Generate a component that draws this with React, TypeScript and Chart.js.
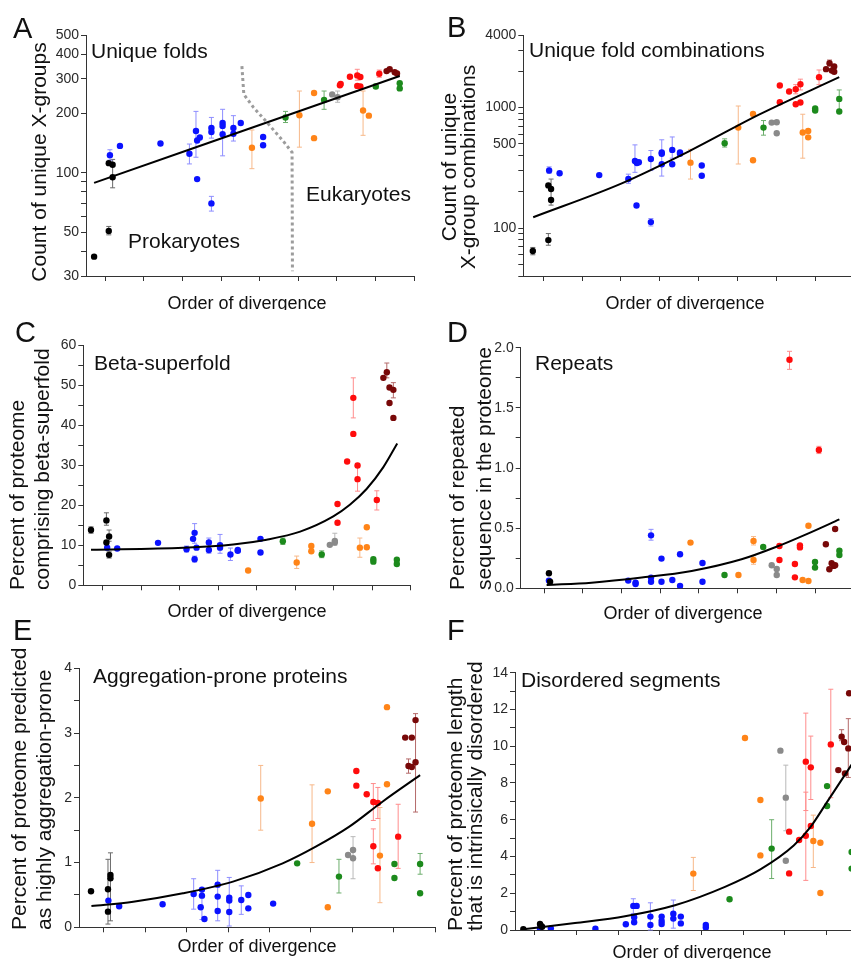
import React, { useEffect, useRef } from "react";
import { Chart, registerables } from "chart.js";
Chart.register(...registerables);

const FONT = '"Liberation Sans", Arial, Helvetica, sans-serif';
const GROUP_NAMES = ["black", "blue", "orange", "green", "gray", "red", "darkred"];
const COLORS = ["#000000", "#0b12ff", "#ff8418", "#1c8a1c", "#8a8a8a", "#ff0c0c", "#780808"];
const ERR_COLORS = ["#6a6a6a", "#8e8eff", "#f7b889", "#6cae6c", "#b8b8b8", "#ff8c8c", "#b46a6a"];
const X_TICKS = [1, 2, 3, 4, 5, 6, 7, 8, 9];

// ---------- Panel A: unique folds ----------
const A_x = [0.71, 1.09, 1.09, 1.19, 1.19, 1.12, 1.38, 2.43, 3.18, 3.35, 3.38, 3.45, 3.38, 3.75, 3.75, 4.04, 4.04, 4.04, 3.75, 4.32, 4.32, 4.51, 5.09, 5.09, 4.8, 6.03, 6.41, 6.41, 7.68, 7.83, 5.67, 6.67, 8.01, 8.63, 8.63, 6.88, 7.02, 7.08, 7.1, 7.34, 7.53, 7.61, 7.53, 7.61, 8.1, 8.29, 8.37, 8.5, 8.56];
const A_y = [37.6, 50.8, 112, 110, 95, 123, 137, 141, 125, 163, 146, 151, 93, 169, 161, 179, 173, 157, 70, 169, 158, 179, 152, 138, 134, 196, 254, 150, 207, 195, 191, 234, 274, 285, 268, 250, 242, 278, 282, 307, 312, 306, 276, 274, 318, 328, 335, 324, 319];
const A_g = [0, 0, 0, 0, 0, 1, 1, 1, 1, 1, 1, 1, 1, 1, 1, 1, 1, 1, 1, 1, 1, 1, 1, 1, 2, 2, 2, 2, 2, 2, 3, 3, 3, 3, 3, 4, 4, 5, 5, 5, 5, 5, 5, 5, 5, 6, 6, 6, 6];
const A_errX = [1.09, 1.19, 1.12, 3.18, 3.35, 3.75, 4.04, 3.75, 4.32, 4.8, 6.03, 7.68, 5.67, 6.67, 8.01, 7.02, 7.53, 8.1];
const A_errLo = [48.5, 84, 116, 111, 120, 150, 122, 64, 145, 105, 135, 155, 180, 210, 268, 228, 295, 305];
const A_errHi = [53.5, 117, 131, 140, 205, 191, 210, 76, 195, 165, 260, 260, 205, 260, 282, 260, 335, 332];
const A_errG = [0, 0, 1, 1, 1, 1, 1, 1, 1, 2, 2, 2, 3, 3, 3, 4, 5, 5];
const A_fitX = [0.71, 8.63];
const A_fitY = [89, 310];
const A_divX = [4.54, 4.59, 4.83, 5.18, 5.61, 5.84, 5.85];
const A_divY = [348, 250, 216, 181, 145, 127, 31.7];
const A_yTicks = [30, 40, 50, 60, 70, 80, 90, 100, 200, 300, 400, 500];
const A_yLabels = [30, 50, 100, 200, 300, 400, 500];

// ---------- Panel B: unique fold combinations ----------
const B_x = [0.73, 1.13, 1.13, 1.2, 1.2, 1.15, 1.42, 2.44, 3.19, 3.36, 3.41, 3.46, 3.4, 3.77, 3.77, 4.05, 4.05, 4.05, 4.32, 4.32, 4.52, 4.52, 5.08, 5.08, 4.79, 6.02, 6.4, 6.4, 7.68, 7.82, 7.82, 5.67, 6.67, 8.0, 8.0, 8.62, 8.62, 6.88, 7.01, 7.01, 7.09, 7.09, 7.33, 7.5, 7.62, 7.5, 7.62, 8.1, 8.28, 8.37, 8.43, 8.49, 8.49];
const B_y = [64.5, 79.4, 226, 211, 171, 300, 285, 275, 255, 360, 347, 352, 154, 374, 112, 423, 414, 338, 445, 338, 425, 414, 330, 272, 349, 682, 886, 365, 620, 640, 566, 505, 682, 981, 944, 1180, 926, 750, 755, 612, 1523, 1108, 1359, 1420, 1563, 1066, 1100, 1787, 2083, 2335, 2030, 2190, 1980];
const B_g = [0, 0, 0, 0, 0, 1, 1, 1, 1, 1, 1, 1, 1, 1, 1, 1, 1, 1, 1, 1, 1, 1, 1, 1, 2, 2, 2, 2, 2, 2, 2, 3, 3, 3, 3, 3, 3, 4, 4, 4, 5, 5, 5, 5, 5, 5, 5, 5, 6, 6, 6, 6, 6];
const B_errX = [0.73, 1.13, 1.2, 1.15, 3.19, 3.36, 3.77, 3.77, 4.05, 4.32, 4.79, 6.02, 7.68, 5.67, 6.67, 8.62, 7.5, 7.62, 8.1, 8.37];
const B_errLo = [60, 72, 155, 285, 235, 290, 300, 104, 270, 380, 255, 340, 380, 470, 590, 930, 1300, 1400, 1550, 2200];
const B_errHi = [69, 90, 255, 322, 280, 490, 440, 120, 540, 570, 450, 1030, 880, 550, 780, 1400, 1550, 1720, 2050, 2480];
const B_errG = [0, 0, 0, 1, 1, 1, 1, 1, 1, 1, 2, 2, 2, 3, 3, 3, 5, 5, 5, 6];
const B_fitX = [0.74, 3.02, 4.82, 6.54, 8.62];
const B_fitY = [123, 235, 445, 869, 1787];
const B_yTicks = [40, 50, 60, 70, 80, 90, 100, 200, 300, 400, 500, 600, 700, 800, 900, 1000, 2000, 3000, 4000];
const B_yLabels = [100, 500, 1000, 4000];

// ---------- Panel C: beta-superfold ----------
const C_x = [0.7, 1.1, 1.1, 1.17, 1.17, 1.12, 1.38, 2.44, 3.18, 3.35, 3.39, 3.44, 3.39, 3.76, 3.76, 4.05, 4.05, 4.32, 4.51, 4.51, 5.1, 5.1, 4.78, 6.04, 6.42, 6.42, 7.68, 7.86, 7.86, 5.68, 6.69, 8.03, 8.03, 8.64, 8.64, 6.9, 7.03, 7.03, 7.1, 7.1, 7.35, 7.51, 7.51, 7.62, 7.62, 8.12, 8.29, 8.38, 8.45, 8.45, 8.55, 8.55];
const C_y = [13.8, 16.2, 10.7, 12.2, 7.6, 9.4, 9.2, 10.6, 9.0, 11.6, 13.1, 9.4, 6.5, 10.7, 8.8, 10.0, 9.4, 7.7, 8.8, 8.6, 11.6, 8.2, 3.7, 5.7, 9.8, 8.5, 9.4, 14.5, 9.5, 11.0, 7.7, 6.5, 5.9, 6.4, 5.3, 10.1, 11.1, 10.7, 20.3, 15.6, 30.9, 46.8, 37.8, 29.9, 26.5, 21.3, 51.8, 53.2, 49.4, 45.5, 48.8, 41.8];
const C_g = [0, 0, 0, 0, 0, 1, 1, 1, 1, 1, 1, 1, 1, 1, 1, 1, 1, 1, 1, 1, 1, 1, 2, 2, 2, 2, 2, 2, 2, 3, 3, 3, 3, 3, 3, 4, 4, 4, 5, 5, 5, 5, 5, 5, 5, 5, 6, 6, 6, 6, 6, 6];
const C_errX = [0.7, 1.1, 1.17, 1.17, 3.18, 3.39, 3.39, 3.76, 4.05, 4.32, 6.04, 7.68, 5.68, 6.69, 7.03, 7.51, 7.62, 8.12, 8.38, 8.55];
const C_errLo = [13, 15, 11, 6.8, 8.3, 10.5, 5.8, 8, 8, 6.2, 4.2, 7.0, 10.2, 6.9, 10, 41.8, 23.5, 18.8, 51.8, 46.8];
const C_errHi = [14.6, 18.1, 13.8, 8.5, 9.8, 15.4, 7.3, 11.8, 12.7, 9.3, 7.3, 11.8, 11.8, 8.6, 13, 51.8, 29.9, 23.6, 55.5, 50.6];
const C_errG = [0, 0, 0, 0, 1, 1, 1, 1, 1, 1, 2, 2, 3, 3, 4, 5, 5, 5, 6, 6];
const C_fitX = [0.7, 3.1, 4.39, 5.26, 6.13, 6.99, 7.42, 7.86, 8.29, 8.65];
const C_fitY = [8.9, 9.4, 10.2, 11.4, 13.4, 17.2, 20.1, 24.1, 29.5, 35.4];
const C_yTicks = [0, 5, 10, 15, 20, 25, 30, 35, 40, 45, 50, 55, 60];
const C_yLabels = [0, 10, 20, 30, 40, 50, 60];

// ---------- Panel D: repeats ----------
const D_x = [1.12, 1.15, 1.12, 3.17, 3.36, 3.36, 3.76, 3.76, 3.76, 4.03, 4.03, 4.31, 4.51, 4.51, 5.09, 5.09, 4.78, 6.02, 6.41, 6.41, 7.68, 7.83, 7.83, 5.66, 6.66, 8.0, 8.0, 8.63, 8.63, 6.88, 7.01, 7.01, 7.08, 7.08, 7.34, 7.48, 7.48, 7.61, 7.61, 8.1, 8.28, 8.37, 8.43, 8.48, 8.52, 8.52];
const D_y = [0.125, 0.055, 0.064, 0.064, 0.047, 0.036, 0.44, 0.089, 0.055, 0.247, 0.055, 0.069, 0.283, 0.019, 0.21, 0.055, 0.38, 0.11, 0.393, 0.235, 0.069, 0.52, 0.061, 0.11, 0.343, 0.219, 0.172, 0.313, 0.277, 0.191, 0.161, 0.111, 0.352, 0.235, 1.9, 0.202, 0.091, 0.357, 0.34, 1.15, 0.366, 0.158, 0.208, 0.186, 0.493, 0.191];
const D_g = [0, 0, 1, 1, 1, 1, 1, 1, 1, 1, 1, 1, 1, 1, 1, 1, 2, 2, 2, 2, 2, 2, 2, 3, 3, 3, 3, 3, 3, 4, 4, 4, 5, 5, 5, 5, 5, 5, 5, 5, 6, 6, 6, 6, 6, 6];
const D_errX = [3.76, 6.41, 6.41, 7.34, 8.1];
const D_errLo = [0.4, 0.36, 0.2, 1.82, 1.12];
const D_errHi = [0.49, 0.43, 0.27, 1.97, 1.18];
const D_errG = [1, 2, 2, 5, 5];
const D_fitX = [1.06, 2.22, 3.52, 4.81, 6.1, 6.97, 7.83, 8.63];
const D_fitY = [0.028, 0.047, 0.089, 0.144, 0.241, 0.341, 0.457, 0.573];
const D_yTicks = [0, 0.25, 0.5, 0.75, 1.0, 1.25, 1.5, 1.75, 2.0];
const D_yLabels = [0, 0.5, 1.0, 1.5, 2.0];

// ---------- Panel E: aggregation-prone proteins ----------
const E_x = [0.69, 1.1, 1.1, 1.16, 1.16, 1.11, 1.37, 2.42, 3.17, 3.37, 3.37, 3.34, 3.43, 3.75, 3.75, 3.75, 4.03, 4.03, 4.03, 4.32, 4.49, 4.49, 5.09, 4.79, 6.03, 6.41, 6.41, 7.67, 7.84, 7.84, 5.67, 6.68, 8.02, 8.02, 8.64, 8.64, 6.9, 7.02, 7.02, 7.1, 7.1, 7.35, 7.51, 7.51, 7.62, 7.62, 8.11, 8.28, 8.44, 8.36, 8.44, 8.53, 8.53];
const E_y = [0.556, 0.587, 0.242, 0.808, 0.757, 0.412, 0.324, 0.355, 0.515, 0.582, 0.489, 0.309, 0.129, 0.659, 0.474, 0.252, 0.458, 0.412, 0.237, 0.422, 0.5, 0.293, 0.366, 1.99, 1.6, 2.1, 0.309, 1.107, 3.4, 2.21, 0.988, 0.783, 0.978, 0.762, 0.978, 0.525, 1.117, 1.194, 1.066, 2.414, 2.188, 2.054, 1.936, 1.251, 1.92, 0.911, 1.4, 2.93, 2.93, 2.49, 2.476, 2.548, 3.2];
const E_g = [0, 0, 0, 0, 0, 1, 1, 1, 1, 1, 1, 1, 1, 1, 1, 1, 1, 1, 1, 1, 1, 1, 1, 2, 2, 2, 2, 2, 2, 2, 3, 3, 3, 3, 3, 3, 4, 4, 4, 5, 5, 5, 5, 5, 5, 5, 5, 6, 6, 6, 6, 6, 6];
const E_errX = [1.1, 1.16, 3.17, 3.37, 3.75, 4.03, 4.32, 4.79, 6.03, 7.67, 6.68, 8.64, 7.02, 7.51, 7.51, 7.62, 8.11, 8.36, 8.53];
const E_errLo = [0.05, 0.1, 0.28, 0.12, 0.1, 0.02, 0.2, 1.5, 1.0, 0.38, 0.53, 0.82, 0.75, 1.65, 0.98, 1.68, 0.91, 2.38, 1.78];
const E_errHi = [1.05, 1.15, 0.75, 0.57, 0.88, 0.77, 0.64, 2.5, 2.2, 1.85, 1.05, 1.14, 1.4, 2.22, 1.52, 2.16, 1.9, 2.6, 3.3];
const E_errG = [0, 0, 1, 1, 1, 1, 1, 2, 2, 2, 3, 3, 4, 5, 5, 5, 5, 6, 6];
const E_fitX = [0.7, 1.71, 2.91, 4.12, 5.32, 6.12, 6.93, 7.73, 8.64];
const E_fitY = [0.329, 0.396, 0.525, 0.705, 0.988, 1.246, 1.555, 1.94, 2.35];
const E_yTicks = [0, 0.5, 1, 1.5, 2, 2.5, 3, 3.5, 4];
const E_yLabels = [0, 1, 2, 3, 4];

// ---------- Panel F: disordered segments ----------
const F_x = [0.72, 1.12, 1.14, 1.17, 1.12, 1.38, 2.45, 3.18, 3.36, 3.44, 3.38, 3.38, 3.77, 3.77, 4.04, 4.04, 4.04, 4.32, 4.32, 4.5, 4.5, 5.1, 5.1, 4.8, 6.04, 6.41, 6.41, 7.68, 7.85, 7.85, 5.67, 6.68, 8.01, 8.01, 8.6, 8.6, 6.89, 7.02, 7.02, 7.1, 7.1, 7.34, 7.5, 7.5, 7.62, 7.62, 8.1, 8.28, 8.36, 8.42, 8.44, 8.52, 8.54];
const F_y = [0.05, 0.33, 0.24, 0.18, 0.07, 0.09, 0.07, 0.31, 1.31, 1.31, 0.69, 0.42, 0.73, 0.27, 0.73, 0.49, 0.33, 0.89, 0.62, 0.73, 0.36, 0.27, 0.13, 3.07, 10.45, 7.07, 4.06, 4.84, 4.75, 2.01, 1.67, 4.43, 7.83, 6.75, 4.24, 3.34, 9.76, 7.2, 3.77, 5.35, 3.08, 4.9, 9.16, 5.13, 8.85, 5.66, 10.1, 8.7, 10.52, 10.23, 8.52, 9.88, 12.88];
const F_g = [0, 0, 0, 0, 1, 1, 1, 1, 1, 1, 1, 1, 1, 1, 1, 1, 1, 1, 1, 1, 1, 1, 1, 2, 2, 2, 2, 2, 2, 2, 3, 3, 3, 3, 3, 3, 4, 4, 4, 5, 5, 5, 5, 5, 5, 5, 5, 6, 6, 6, 6, 6, 6];
const F_errX = [3.36, 3.77, 4.32, 4.8, 7.68, 6.68, 7.02, 7.5, 7.5, 7.62, 8.1, 8.36, 8.52];
const F_errLo = [0.9, 0.0, 0.1, 2.15, 3.4, 2.8, 5.4, 6.5, 2.7, 7.1, 7.2, 10.3, 8.3];
const F_errHi = [1.7, 1.48, 1.63, 3.95, 6.25, 6.0, 8.97, 11.8, 7.5, 10.55, 13.1, 10.9, 11.5];
const F_errG = [1, 1, 1, 2, 2, 3, 4, 5, 5, 5, 5, 6, 6];
const F_fitX = [0.72, 1.96, 3.16, 4.36, 5.56, 6.41, 7.21, 7.61, 8.02, 8.6];
const F_fitY = [0.04, 0.38, 0.75, 1.35, 2.35, 3.3, 4.6, 5.6, 7.0, 9.0];
const F_yTicks = [0, 1, 2, 3, 4, 5, 6, 7, 8, 9, 10, 11, 12, 13, 14];
const F_yLabels = [0, 2, 4, 6, 8, 10, 12, 14];

type TextItem = { t: string; x: number; y: number; size: number; rot?: boolean; align?: CanvasTextAlign; baseline?: CanvasTextBaseline };

interface Panel {
  id: string; left: number; top: number; w: number; h: number;
  yW: number; xH: number; padT: number; padR: number;
  xMin: number; xMax: number;
  yType: "linear" | "logarithmic"; yMin: number; yMax: number;
  yTicks: number[]; yLabels: number[]; yFmt: (v: number) => string;
  px: number[]; py: number[]; pg: number[];
  ex: number[]; elo: number[]; ehi: number[]; eg: number[];
  fx: number[]; fy: number[];
  dx?: number[]; dy?: number[];
  texts: TextItem[];
}

const intFmt = (v: number) => String(v);

const PANELS: Panel[] = [
  {
    id: "A", left: 0, top: 0, w: 425, h: 310, yW: 86, xH: 34, padT: 35, padR: 11,
    xMin: 0.5, xMax: 9, yType: "logarithmic", yMin: 30, yMax: 500,
    yTicks: A_yTicks, yLabels: A_yLabels, yFmt: intFmt,
    px: A_x, py: A_y, pg: A_g, ex: A_errX, elo: A_errLo, ehi: A_errHi, eg: A_errG,
    fx: A_fitX, fy: A_fitY, dx: A_divX, dy: A_divY,
    texts: [
      { t: "A", x: 13, y: 38, size: 29 },
      { t: "Unique folds", x: 91, y: 58, size: 21 },
      { t: "Prokaryotes", x: 128, y: 248, size: 21 },
      { t: "Eukaryotes", x: 306, y: 201, size: 21 },
      { t: "Count of unique X-groups", x: 40, y: 162, size: 21, rot: true, align: "center", baseline: "middle" },
      { t: "Order of divergence", x: 247, y: 309, size: 18, align: "center" },
    ],
  },
  {
    id: "B", left: 425, top: 0, w: 440, h: 310, yW: 98.3, xH: 34, padT: 35, padR: 11,
    xMin: 0.485, xMax: 9, yType: "logarithmic", yMin: 40, yMax: 4000,
    yTicks: B_yTicks, yLabels: B_yLabels, yFmt: intFmt,
    px: B_x, py: B_y, pg: B_g, ex: B_errX, elo: B_errLo, ehi: B_errHi, eg: B_errG,
    fx: B_fitX, fy: B_fitY,
    texts: [
      { t: "B", x: 22, y: 37, size: 29 },
      { t: "Unique fold combinations", x: 104, y: 57, size: 21 },
      { t: "Count of unique", x: 25, y: 167, size: 21, rot: true, align: "center", baseline: "middle" },
      { t: "X-group combinations", x: 44, y: 167, size: 21, rot: true, align: "center", baseline: "middle" },
      { t: "Order of divergence", x: 260, y: 309, size: 18, align: "center" },
    ],
  },
  {
    id: "C", left: 0, top: 310, w: 425, h: 320, yW: 83.3, xH: 44.7, padT: 35, padR: 14.3,
    xMin: 0.5, xMax: 9, yType: "linear", yMin: 0, yMax: 60,
    yTicks: C_yTicks, yLabels: C_yLabels, yFmt: intFmt,
    px: C_x, py: C_y, pg: C_g, ex: C_errX, elo: C_errLo, ehi: C_errHi, eg: C_errG,
    fx: C_fitX, fy: C_fitY,
    texts: [
      { t: "C", x: 15, y: 32, size: 29 },
      { t: "Beta-superfold", x: 94, y: 60, size: 21 },
      { t: "Percent of proteome", x: 18, y: 280, size: 21, rot: true, align: "left", baseline: "middle" },
      { t: "comprising beta-superfold", x: 43, y: 280, size: 21, rot: true, align: "left", baseline: "middle" },
      { t: "Order of divergence", x: 247, y: 307, size: 18, align: "center" },
    ],
  },
  {
    id: "D", left: 425, top: 310, w: 440, h: 320, yW: 95.7, xH: 41.7, padT: 37.7, padR: 11.3,
    xMin: 0.39, xMax: 9, yType: "linear", yMin: 0, yMax: 2,
    yTicks: D_yTicks, yLabels: D_yLabels, yFmt: (v: number) => v.toFixed(1),
    px: D_x, py: D_y, pg: D_g, ex: D_errX, elo: D_errLo, ehi: D_errHi, eg: D_errG,
    fx: D_fitX, fy: D_fitY,
    texts: [
      { t: "D", x: 22, y: 32, size: 29 },
      { t: "Repeats", x: 110, y: 60, size: 21 },
      { t: "Percent of repeated", x: 33, y: 280, size: 21, rot: true, align: "left", baseline: "middle" },
      { t: "sequence in the proteome", x: 60, y: 280, size: 21, rot: true, align: "left", baseline: "middle" },
      { t: "Order of divergence", x: 258, y: 309, size: 18, align: "center" },
    ],
  },
  {
    id: "E", left: 0, top: 600, w: 440, h: 359, yW: 79, xH: 31.7, padT: 68.3, padR: 5,
    xMin: 0.4, xMax: 9, yType: "linear", yMin: 0, yMax: 4,
    yTicks: E_yTicks, yLabels: E_yLabels, yFmt: intFmt,
    px: E_x, py: E_y, pg: E_g, ex: E_errX, elo: E_errLo, ehi: E_errHi, eg: E_errG,
    fx: E_fitX, fy: E_fitY,
    texts: [
      { t: "E", x: 13, y: 40, size: 29 },
      { t: "Aggregation-prone proteins", x: 93, y: 83, size: 21 },
      { t: "Percent of proteome predicted", x: 20, y: 330, size: 21, rot: true, align: "left", baseline: "middle" },
      { t: "as highly aggregation-prone", x: 45, y: 330, size: 21, rot: true, align: "left", baseline: "middle" },
      { t: "Order of divergence", x: 257, y: 352, size: 18, align: "center" },
    ],
  },
  {
    id: "F", left: 440, top: 600, w: 440, h: 359, yW: 75, xH: 29, padT: 72.7, padR: 11.7,
    xMin: 0.52, xMax: 9, yType: "linear", yMin: 0, yMax: 14,
    yTicks: F_yTicks, yLabels: F_yLabels, yFmt: intFmt,
    px: F_x, py: F_y, pg: F_g, ex: F_errX, elo: F_errLo, ehi: F_errHi, eg: F_errG,
    fx: F_fitX, fy: F_fitY,
    texts: [
      { t: "F", x: 7, y: 40, size: 29 },
      { t: "Disordered segments", x: 81, y: 87, size: 21 },
      { t: "Percent of proteome length", x: 16, y: 331, size: 21, rot: true, align: "left", baseline: "middle" },
      { t: "that is intrinsically disordered", x: 36, y: 331, size: 21, rot: true, align: "left", baseline: "middle" },
      { t: "Order of divergence", x: 252, y: 358, size: 18, align: "center" },
    ],
  },
];

function PanelChart({ p }: { p: Panel }) {
  const ref = useRef<HTMLCanvasElement | null>(null);
  useEffect(() => {
    const canvas = ref.current;
    if (!canvas) return;
    const datasets: any[] = [];
    datasets.push({
      label: "fit",
      data: p.fx.map((x, i) => ({ x, y: p.fy[i] })),
      showLine: true, borderColor: "#000", borderWidth: 2, pointRadius: 0,
      tension: 0.4, cubicInterpolationMode: "monotone", fill: false, order: 0,
    });
    if (p.dx && p.dy) {
      const dy = p.dy;
      datasets.push({
        label: "divide",
        data: p.dx.map((x, i) => ({ x, y: dy[i] })),
        showLine: true, borderColor: "#9c9c9c", borderWidth: 3, borderDash: [3, 3],
        pointRadius: 0, tension: 0, fill: false, order: 2,
      });
    }
    for (let g = 0; g < GROUP_NAMES.length; g++) {
      const data: { x: number; y: number }[] = [];
      p.pg.forEach((gg, i) => { if (gg === g) data.push({ x: p.px[i], y: p.py[i] }); });
      datasets.push({
        label: GROUP_NAMES[g], data, showLine: false,
        backgroundColor: COLORS[g], borderColor: COLORS[g], borderWidth: 0,
        pointRadius: 3.2, pointHoverRadius: 3.2, order: 1,
      });
    }

    const errorBars = {
      id: "errorBars",
      beforeDatasetsDraw(chart: any) {
        const ctx = chart.ctx;
        const xs = chart.scales.x, ys = chart.scales.y;
        ctx.save();
        ctx.lineWidth = 1;
        p.ex.forEach((x, i) => {
          const px = xs.getPixelForValue(x);
          const y1 = ys.getPixelForValue(p.elo[i]);
          const y2 = ys.getPixelForValue(p.ehi[i]);
          ctx.strokeStyle = ERR_COLORS[p.eg[i]];
          ctx.beginPath();
          ctx.moveTo(px, y1); ctx.lineTo(px, y2);
          ctx.moveTo(px - 2.5, y1); ctx.lineTo(px + 2.5, y1);
          ctx.moveTo(px - 2.5, y2); ctx.lineTo(px + 2.5, y2);
          ctx.stroke();
        });
        ctx.restore();
      },
    };
    const texts = {
      id: "panelTexts",
      afterDraw(chart: any) {
        const ctx = chart.ctx;
        ctx.save();
        ctx.fillStyle = "#111";
        for (const it of p.texts) {
          ctx.font = `${it.size}px ${FONT}`;
          ctx.textAlign = it.align ?? "left";
          ctx.textBaseline = it.baseline ?? "alphabetic";
          if (it.rot) {
            ctx.save();
            ctx.translate(it.x, it.y);
            ctx.rotate(-Math.PI / 2);
            ctx.fillText(it.t, 0, 0);
            ctx.restore();
          } else {
            ctx.fillText(it.t, it.x, it.y);
          }
        }
        ctx.restore();
      },
    };

    const axisColor = "#333";
    const chart = new Chart(canvas, {
      type: "scatter",
      data: { datasets },
      options: {
        animation: false,
        responsive: false,
        devicePixelRatio: 1,
        events: [],
        layout: { padding: { top: p.padT, right: p.padR, left: 0, bottom: 0 } },
        plugins: { legend: { display: false }, tooltip: { enabled: false }, title: { display: false } },
        scales: {
          x: {
            type: "linear", min: p.xMin, max: p.xMax,
            afterBuildTicks: (s: any) => { s.ticks = X_TICKS.map((v) => ({ value: v })); },
            afterFit: (s: any) => { s.height = p.xH; },
            ticks: { display: false, autoSkip: false },
            grid: { display: true, drawOnChartArea: false, drawTicks: true, tickLength: 5, color: axisColor, tickColor: axisColor },
            border: { display: true, color: axisColor, width: 1 },
          },
          y: {
            type: p.yType, min: p.yMin, max: p.yMax,
            afterBuildTicks: (s: any) => { s.ticks = p.yTicks.map((v) => ({ value: v })); },
            afterFit: (s: any) => { s.width = p.yW; },
            ticks: {
              autoSkip: false, padding: 2, color: "#2a2a2a",
              font: { family: FONT, size: 14 },
              major: { enabled: false },
              callback: (v: any) => (p.yLabels.indexOf(Number(v)) >= 0 ? p.yFmt(Number(v)) : ""),
            },
            grid: { display: true, drawOnChartArea: false, drawTicks: true, tickLength: 5, color: axisColor, tickColor: axisColor },
            border: { display: true, color: axisColor, width: 1 },
          },
        },
      } as any,
      plugins: [errorBars, texts],
    });
    return () => chart.destroy();
  }, [p]);
  return (
    <canvas
      ref={ref}
      width={p.w}
      height={p.h}
      style={{ position: "absolute", left: p.left, top: p.top, width: p.w, height: p.h }}
    />
  );
}

export default function App() {
  return (
    <div style={{ position: "fixed", left: 0, top: 0, width: 851, height: 959, overflow: "hidden", background: "#fff" }}>
      {PANELS.map((p) => (
        <PanelChart key={p.id} p={p} />
      ))}
    </div>
  );
}
